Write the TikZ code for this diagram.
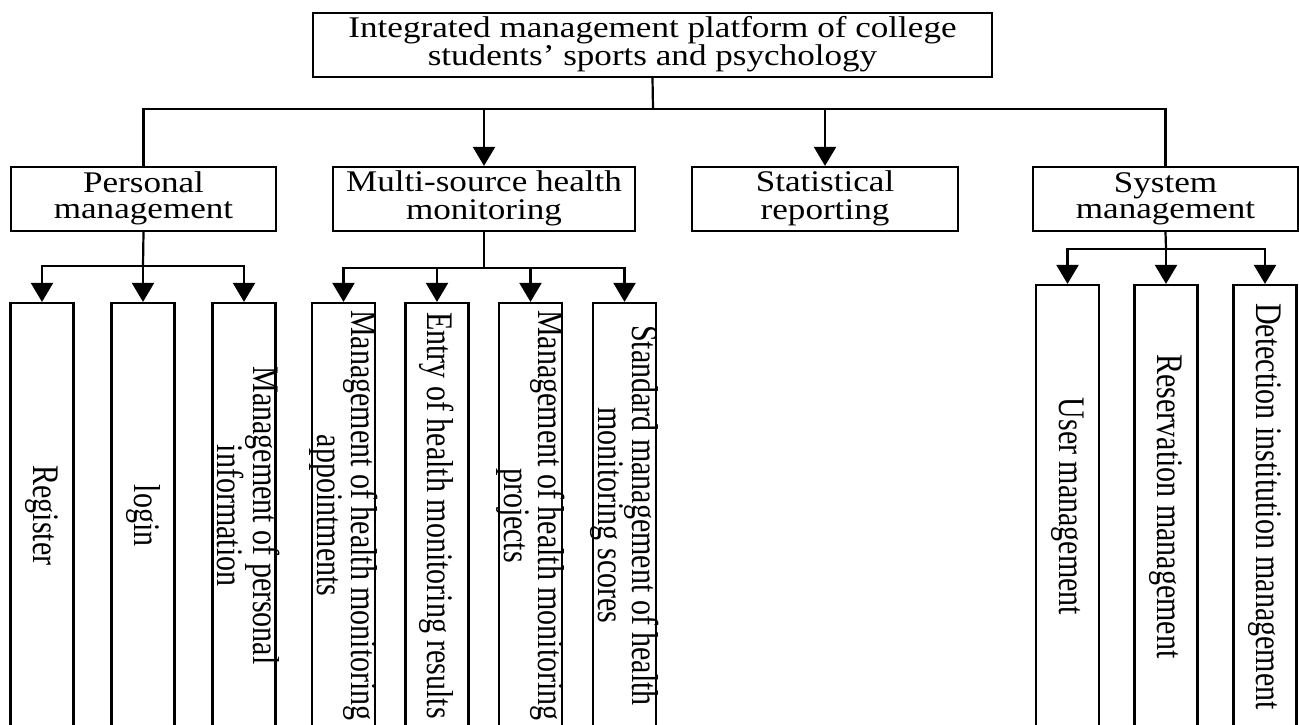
\documentclass[tikz,border=0pt]{standalone}
\usepackage{fontspec}
\usepackage{graphicx}
\setmainfont{Liberation Serif}
\usetikzlibrary{arrows.meta}
% text is set slightly wider than tall
\newcommand{\hstretch}[1]{\scalebox{1.17}[1]{#1}}
\newcommand{\twoline}[2]{\begin{tabular}{@{}c@{}}#1\\#2\end{tabular}}
\newcommand{\vlabel}[1]{\scalebox{1.25}[1]{\rotatebox{-90}{#1}}}

\begin{document}
\begin{tikzpicture}[x=0.5pt,y=-0.5pt,
  box/.style={draw, line width=1.1pt, inner sep=0pt},
  topbox/.style={box, minimum width=339.5pt, minimum height=32pt},
  midbox/.style={box, minimum height=32pt},
  leafbox/.style={box, minimum width=31.5pt},
  lbl/.style={inner sep=0pt, font=\fontsize{15}{13}\selectfont},
  vlbl/.style={inner sep=0pt, font=\fontsize{15}{12}\selectfont},
  wire/.style={line width=1.1pt},
  arr/.style={wire, -{Triangle[width=11pt,length=9.5pt]}},
]
\useasboundingbox (0,0) rectangle (1299,724);
\clip (0,0) rectangle (1299,724);

% root
\node[topbox] (root) at (652.5,45) {};
\node[lbl] (root-t) at (root) {\hstretch{\twoline{Integrated management platform of college}{students' sports and psychology}}};

% second level
\node[midbox, minimum width=132.5pt] (pers) at (143.5,199) {};
\node[midbox, minimum width=151pt]   (multi) at (484,199) {};
\node[midbox, minimum width=133pt]   (stat) at (825,199) {};
\node[midbox, minimum width=132.5pt] (sys) at (1165.5,199) {};
\node[lbl] (pers-t)  at (pers)  {\hstretch{\twoline{Personal}{management}}};
\node[lbl] (multi-t) at (multi) {\hstretch{\twoline{Multi-source health}{monitoring}}};
\node[lbl] (stat-t)  at (stat)  {\hstretch{\twoline{Statistical}{reporting}}};
\node[lbl] (sys-t)   at (sys)   {\hstretch{\twoline{System}{management}}};

% leaves of personal management
\node[leafbox, minimum height=212.5pt] (reg)   at (42,515.5) {};
\node[leafbox, minimum height=212.5pt] (login) at (143,515.5) {};
\node[leafbox, minimum height=212.5pt] (mpi)   at (244,515.5) {};
% leaves of health monitoring
\node[leafbox, minimum height=212.5pt] (m1) at (343.5,515.5) {};
\node[leafbox, minimum height=212.5pt] (m2) at (437,515.5) {};
\node[leafbox, minimum height=212.5pt] (m3) at (530.5,515.5) {};
\node[leafbox, minimum height=212.5pt] (m4) at (624.5,515.5) {};
% leaves of system management
\node[leafbox, minimum height=221.5pt] (usr) at (1067.5,506.5) {};
\node[leafbox, minimum height=221.5pt] (res) at (1166,506.5) {};
\node[leafbox, minimum height=221.5pt] (det) at (1265,506.5) {};

\node[vlbl] (reg-t)   at (reg)   {\vlabel{Register}};
\node[vlbl] (login-t) at (login) {\vlabel{login}};
\node[vlbl] (mpi-t)   at (mpi)   {\vlabel{\twoline{Management of personal}{information}}};
\node[vlbl] (m1-t) at (m1) {\vlabel{\twoline{Management of health monitoring}{appointments}}};
\node[vlbl] (m2-t) at (m2) {\vlabel{Entry of health monitoring results}};
\node[vlbl] (m3-t) at (m3) {\vlabel{\twoline{Management of health monitoring}{projects}}};
\node[vlbl] (m4-t) at (m4) {\vlabel{\twoline{Standard management of health}{monitoring scores}}};
\node[vlbl] (usr-t) at (usr) {\vlabel{User management}};
\node[vlbl] (res-t) at (res) {\vlabel{Reservation management}};
\node[vlbl] (det-t) at (det) {\vlabel{Detection institution management}};

% root bus
\coordinate (bus) at (653,109);
\draw[wire] (root.south) -- (bus);
\draw[wire] (pers.north) |- (bus) -| (sys.north);
\draw[arr] (multi.north |- bus) -- (multi.north);
\draw[arr] (stat.north |- bus) -- (stat.north);

% personal management bus
\coordinate (pbus) at (143,266);
\draw[wire] (pers.south) -- (pbus);
\draw[arr] (pbus) -| (reg.north);
\draw[arr] (pbus) -- (login.north);
\draw[arr] (pbus) -| (mpi.north);

% health monitoring bus
\coordinate (mbus) at (484,268);
\draw[wire] (multi.south) -- (mbus);
\draw[arr] (mbus) -| (m1.north);
\draw[arr] (mbus) -| (m2.north);
\draw[arr] (mbus) -| (m3.north);
\draw[arr] (mbus) -| (m4.north);

% system management bus
\coordinate (sbus) at (1166,249);
\draw[wire] (sys.south) -- (sbus);
\draw[arr] (sbus) -| (usr.north);
\draw[arr] (sbus) -- (res.north);
\draw[arr] (sbus) -| (det.north);
\end{tikzpicture}
\end{document}
